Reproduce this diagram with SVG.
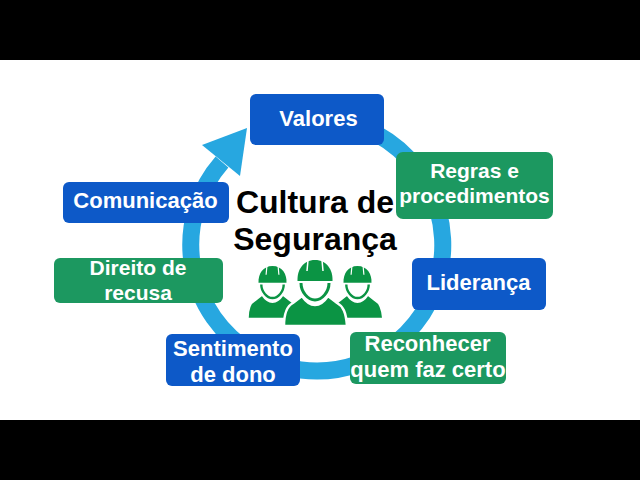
<svg xmlns="http://www.w3.org/2000/svg" width="640" height="480" viewBox="0 0 640 480">
<style>
.b{fill:#0d59c8}.g{fill:#1c9860}
.t{font-family:"Liberation Sans",Arial,sans-serif;font-weight:700;font-size:22px;fill:#fff;text-anchor:middle}
.n{font-size:21px}
.h{font-family:"Liberation Sans",Arial,sans-serif;font-weight:700;font-size:32px;fill:#000;text-anchor:middle}
.w{fill:#0b9444}
.o{stroke:#fff;stroke-width:2.500px}
.s{fill:none;stroke:#fff;stroke-width:1.500px}
.c{fill:none;stroke:#0b9444;stroke-width:3px}
</style>
<defs>
<g id="worker">
<path class="w" d="M-17.500 1C-18 -10 -12 -20 0 -20C12 -20 18 -10 17.500 1Z"/>
<path class="s" d="M-7 -20L-8 -9M7 -20L8 -9"/>
<path class="c" d="M-14 3C-14 12 -7 20 0 20C7 20 14 12 14 3"/>
<path class="w o" d="M-31 46C-31 32 -28 26 -22 23L-13 16C-9 22 -4 25 0 25C4 25 9 22 13 16L22 23C28 26 31 32 32 46Z"/>
</g>
</defs>
<rect width="640" height="480" fill="#fff"/>
<rect width="640" height="60" fill="#000"/>
<rect y="420" width="640" height="60" fill="#000"/>
<g id="connectors">
<path d="M340 121.200A126 126 0 1 1 222 162" fill="none" stroke="#27a7e0" stroke-width="17"/>
<path d="M247 128L202 145L240 176Z" fill="#27a7e0"/>
</g>
<g id="node-valores"><rect class="b" x="250" y="94" width="134" height="51" rx="6"/><text class="t" x="318.500" y="126">Valores</text></g>
<g id="node-regras"><rect class="g" x="396" y="152" width="157" height="67" rx="7"/><text class="t n" x="474.500" y="178">Regras e</text><text class="t n" x="474.500" y="203">procedimentos</text></g>
<g id="node-lideranca"><rect class="b" x="412" y="258" width="134" height="52" rx="6"/><text class="t" x="478.500" y="290">Liderança</text></g>
<g id="node-reconhecer"><rect class="g" x="350" y="332" width="156" height="52" rx="6"/><text class="t" x="427.500" y="351">Reconhecer</text><text class="t" x="428" y="377">quem faz certo</text></g>
<g id="node-sentimento"><rect class="b" x="166" y="334" width="134" height="52" rx="6"/><text class="t" x="233" y="356">Sentimento</text><text class="t" x="233" y="382">de dono</text></g>
<g id="node-direito"><rect class="g" x="54" y="258" width="169" height="45" rx="6"/><text class="t n" x="138" y="275">Direito de</text><text class="t n" x="138" y="300">recusa</text></g>
<g id="node-comunicacao"><rect class="b" x="63" y="182" width="166" height="41" rx="6"/><text class="t" x="145.500" y="208">Comunicação</text></g>
<g id="node-center">
<text class="h" x="315" y="213">Cultura de</text>
<text class="h" x="315" y="250">Segurança</text>
<use href="#worker" transform="translate(272.500 282) scale(.8)"/>
<use href="#worker" transform="translate(357.500 282) scale(.8)"/>
<use href="#worker" transform="translate(315 280)"/>
</g>
</svg>
